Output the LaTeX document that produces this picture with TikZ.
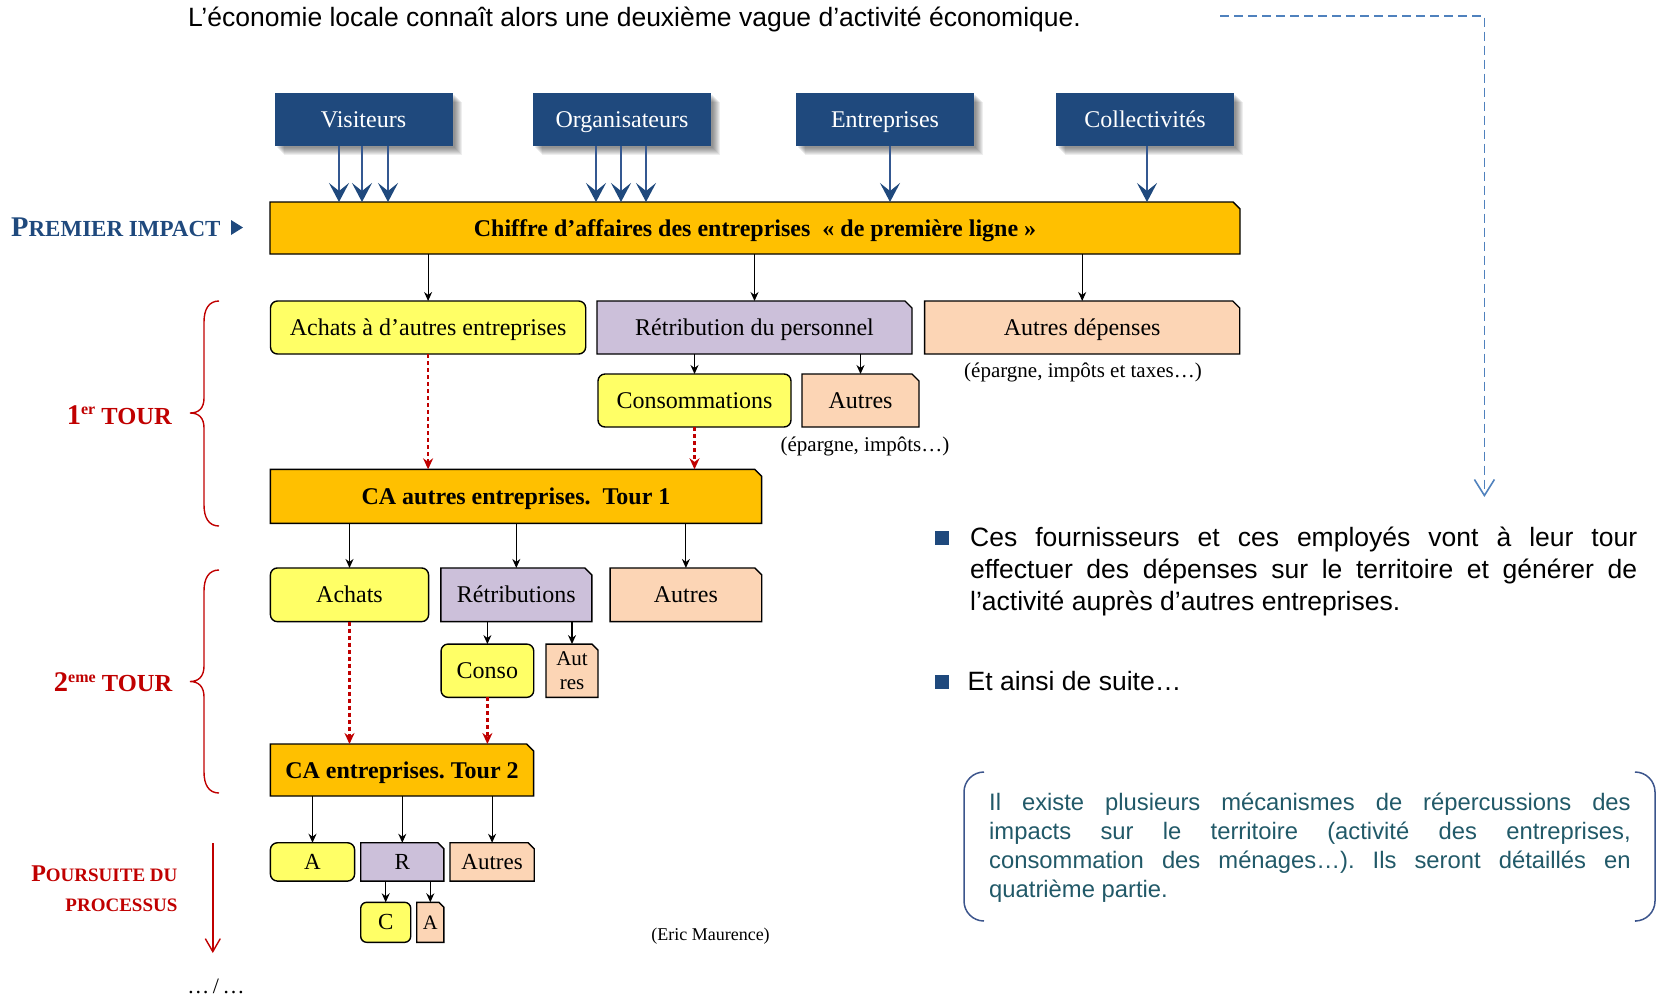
\documentclass[tikz,border=0pt]{standalone}
\usepackage{fontspec}
\setmainfont{Liberation Serif}
\newfontfamily\sansfont{Liberation Sans}
\usetikzlibrary{arrows.meta,calc}
\pgfdeclarelayer{background}
\pgfsetlayers{background,main}
\frenchspacing

\definecolor{srcblue}{RGB}{31,73,125}
\definecolor{arrowblue}{RGB}{52,88,145}
\definecolor{goldbox}{RGB}{255,192,0}
\definecolor{yelbox}{RGB}{255,255,102}
\definecolor{lavbox}{RGB}{204,192,218}
\definecolor{peachbox}{RGB}{252,213,181}
\definecolor{darkred}{RGB}{192,0,0}
\definecolor{dashblue}{RGB}{79,129,189}
\definecolor{tealtext}{RGB}{33,89,104}
\definecolor{bracketblue}{RGB}{60,85,140}

\newcommand\fs[1]{\fontsize{#1}{#1}\selectfont}

% box with the top-right corner cut off, drawn under its node
\newcommand\snipbox[3][7pt]{%
  \begin{pgfonlayer}{background}
    \draw[line width=1.4pt, fill=#3, line join=miter]
      (#2.south west) -- (#2.north west) -- ([xshift=-#1]#2.north east)
      -- ([yshift=-#1]#2.north east) -- (#2.south east) -- cycle;
  \end{pgfonlayer}}

% soft grey shadow to the lower right of a node
\newcommand\softshadow[1]{%
  \begin{pgfonlayer}{background}
    \foreach \k in {2,3,...,9}{%
      \fill[black, fill opacity=0.065]
        ([xshift=\k pt, yshift=-\k pt]#1.north west) rectangle
        ([xshift=\k pt, yshift=-\k pt]#1.south east);}
  \end{pgfonlayer}}

\begin{document}
\begin{tikzpicture}[x=1pt,y=-1pt,
  box/.style={inner sep=0pt, outer sep=0pt, align=center},
  capfit/.style={text height=16pt, text depth=0pt, font=\fs{24}},
  src/.style={box, capfit, fill=srcblue, text=white, minimum width=178pt, minimum height=53pt},
  gbox/.style={box, capfit, font=\bfseries\fs{24}},
  rbox/.style={box, capfit, draw=black, line width=1.4pt, fill=yelbox, rounded corners=7pt},
  sbox/.style={box, capfit},
  smallfit/.style={text height=15pt, text depth=0pt, font=\fs{23}},
  note/.style={inner sep=0pt, anchor=base, font=\fs{21}},
  arr/.style={-{Stealth[length=9pt,width=8pt]}, line width=1.1pt},
  barr/.style={-{Stealth[length=19pt,width=20pt,inset=8pt,color=srcblue]}, line width=1.5pt, draw=arrowblue},
  redarr/.style={draw=darkred, line width=2.4pt, dash pattern=on 4pt off 3pt,
    -{Stealth[length=11pt,width=10pt]}},
  sideline/.style={inner sep=0pt, anchor=base west, font=\sansfont\fs{26.5}},
  tealline/.style={inner sep=0pt, anchor=base west, font=\sansfont\fs{23.8}, text=tealtext},
  redlabel/.style={inner sep=0pt, anchor=base east, text=darkred, font=\bfseries},
]
\useasboundingbox (0,0) rectangle (1656,997);

% heading
\node[sideline] (title) at (188,26) {L’économie locale connaît alors une deuxième vague d’activité économique.};

% spending sources
\node[src] (vis) at (363.5,119.5) {Visiteurs};
\node[src] (org) at (622,119.5) {Organisateurs};
\node[src] (ent) at (885,119.5) {Entreprises};
\node[src] (col) at (1145,119.5) {Collectivités};
\softshadow{vis}\softshadow{org}\softshadow{ent}\softshadow{col}

% first impact
\node[gbox, minimum width=970pt, minimum height=52pt] (ca0) at (755,228)
  {Chiffre d’affaires des entreprises \ « de première ligne »};
\snipbox{ca0}{goldbox}

\node[inner sep=0pt, anchor=base west, text=srcblue, font=\bfseries] (premier) at (11,236)
  {{\fs{28.5}P}{\fs{23}REMIER IMPACT}};
\fill[srcblue] (231,220) -- (243,227.5) -- (231,235) -- cycle;

\coordinate (v1) at ([xshift=-24.5pt]vis.south);
\coordinate (v2) at ([xshift=-1.5pt]vis.south);
\coordinate (v3) at ([xshift=24.5pt]vis.south);
\coordinate (o1) at ([xshift=-26pt]org.south);
\coordinate (o2) at ([xshift=-1pt]org.south);
\coordinate (o3) at ([xshift=24pt]org.south);
\coordinate (e1) at ([xshift=5pt]ent.south);
\coordinate (c1) at ([xshift=2pt]col.south);
\foreach \p in {v1,v2,v3,o1,o2,o3,e1,c1}
  \draw[barr] (\p) -- (\p |- ca0.north);

% first round
\node[rbox, minimum width=315.2pt, minimum height=53pt] (ach1) at (428.1,327.5) {Achats à d’autres entreprises};
\node[sbox, minimum width=315pt, minimum height=53pt] (ret1) at (754.5,327.5) {Rétribution du personnel};
\node[sbox, minimum width=315.1pt, minimum height=53pt] (aut1) at (1082.2,327.5) {Autres dépenses};
\snipbox{ret1}{lavbox}
\snipbox{aut1}{peachbox}
\node[note] (n1) at (1083,377) {(épargne, impôts et taxes…)};

\node[rbox, minimum width=193pt, minimum height=53pt] (cons1) at (694.5,400.5) {Consommations};
\node[sbox, minimum width=117pt, minimum height=53pt] (aut1b) at (860.5,400.5) {Autres};
\snipbox{aut1b}{peachbox}
\node[note] (n2) at (865,451) {(épargne, impôts…)};

\draw[arr] (ca0.south -| ach1) -- (ach1.north);
\draw[arr] (ca0.south -| ret1) -- (ret1.north);
\draw[arr] (ca0.south -| aut1) -- (aut1.north);
\draw[arr] (ret1.south -| cons1) -- (cons1.north);
\draw[arr] (ret1.south -| aut1b) -- (aut1b.north);

\node[gbox, minimum width=491.3pt, minimum height=54pt] (ca1) at (516,496.3) {CA autres entreprises.\ \ Tour 1};
\snipbox{ca1}{goldbox}
\draw[redarr] (ach1.south) -- (ach1.south |- ca1.north);
\draw[redarr] (cons1.south) -- (cons1.south |- ca1.north);

% second round
\node[rbox, minimum width=158.2pt, minimum height=53.7pt] (ach2) at (349.5,594.8) {Achats};
\node[sbox, minimum width=151pt, minimum height=53.7pt] (ret2) at (516.3,594.8) {Rétributions};
\node[sbox, minimum width=151.7pt, minimum height=53.7pt] (aut2) at (685.9,594.8) {Autres};
\snipbox{ret2}{lavbox}
\snipbox{aut2}{peachbox}
\node[rbox, minimum width=92.7pt, minimum height=53.3pt] (cons2) at (487.4,670.7) {Conso};
\node[box, minimum width=52pt, minimum height=53.3pt, font=\fontsize{21}{23.5}\selectfont] (aut2b) at (572,670.7) {Aut\\res};
\snipbox[6pt]{aut2b}{peachbox}

\draw[arr] (ca1.south -| ach2) -- (ach2.north);
\draw[arr] (ca1.south -| ret2) -- (ret2.north);
\draw[arr] (ca1.south -| aut2) -- (aut2.north);
\draw[arr] (ret2.south -| cons2) -- (cons2.north);
\draw[arr] (ret2.south -| aut2b) -- (aut2b.north);

\node[gbox, minimum width=263.3pt, minimum height=52pt] (ca2) at (402,770) {CA entreprises. Tour 2};
\snipbox{ca2}{goldbox}
\draw[redarr] (ach2.south) -- (ach2.south |- ca2.north);
\draw[redarr] (cons2.south) -- (cons2.south |- ca2.north);

% following rounds
\node[rbox, smallfit, minimum width=84.2pt, minimum height=38.3pt] (a3) at (312.5,861.9) {A};
\node[sbox, smallfit, minimum width=83.2pt, minimum height=38.3pt] (r3) at (402.3,861.9) {R};
\node[sbox, smallfit, minimum width=84.2pt, minimum height=38.3pt] (aut3) at (492.1,861.9) {Autres};
\snipbox[6pt]{r3}{lavbox}
\snipbox[6pt]{aut3}{peachbox}
\node[rbox, smallfit, minimum width=50pt, minimum height=40pt, rounded corners=6pt] (c3) at (385.7,922.3) {C};
\node[box, text height=13.5pt, text depth=0pt, font=\fs{20.5}, minimum width=27.1pt, minimum height=40pt] (a3b) at (430.3,922.3) {A};
\snipbox[5pt]{a3b}{peachbox}

\draw[arr] (ca2.south -| a3) -- (a3.north);
\draw[arr] (ca2.south -| r3) -- (r3.north);
\draw[arr] (ca2.south -| aut3) -- (aut3.north);
\draw[arr] (r3.south -| c3) -- (c3.north);
\draw[arr] (r3.south -| a3b) -- (a3b.north);

\node[inner sep=0pt, anchor=base, font=\fs{18}] (credit) at (710.5,940) {(Eric Maurence)};
\node[inner sep=0pt, anchor=base, font=\fs{22}] (cont) at (216,993) {…\,/\,…};

% round labels and braces
\node[redlabel] (tour1) at (172,424) {{\fs{28.5}1}\raisebox{9.5pt}{\fs{16}er}{\fs{24.5}\ TOUR}};
\node[redlabel] (tour2) at (172.4,691.7) {{\fs{28.5}2}\raisebox{9.5pt}{\fs{16}eme}{\fs{24.5}\ TOUR}};
\draw[darkred, line width=1.4pt]
  (219,301) .. controls (209,301) and (204,309) .. (204,322) -- (204,398)
  .. controls (204,408) and (199,413) .. (190,413)
  .. controls (199,413) and (204,418) .. (204,428) -- (204,505)
  .. controls (204,518) and (209,526) .. (219,526);
\draw[darkred, line width=1.4pt]
  (219,570) .. controls (209,570) and (204,578) .. (204,591) -- (204,666)
  .. controls (204,676) and (199,681.5) .. (190,681.5)
  .. controls (199,681.5) and (204,687) .. (204,697) -- (204,772)
  .. controls (204,785) and (209,793) .. (219,793);

\node[redlabel] (pours1) at (177.6,881.7) {{\fs{24}P}{\fs{19}OURSUITE DU}};
\node[redlabel] (pours2) at (177.6,911.7) {{\fs{19}PROCESSUS}};
\coordinate (p0) at (212.8,843);
\coordinate (p1) at (212.8,953);
\draw[darkred, line width=1.4pt, -{Straight Barb[length=13pt,width=15pt]}] (p0) -- (p1);

% dashed pointer on the right
\coordinate (d0) at (1220,16);
\coordinate (d1) at (1484.4,16);
\coordinate (d2) at (1484.4,497);
\draw[dashblue, line width=1.6pt, dash pattern=on 9pt off 5pt,
  -{Straight Barb[length=16pt,width=20pt]}] (d0) -- (d1) -- (d2);

% bullet points
\node[fill=srcblue, minimum size=14pt, inner sep=0pt] (b1) at (942,537.5) {};
\node[sideline] (l1a) at (970,546.7) {\makebox[667pt][s]{Ces fournisseurs et ces employés vont à leur tour}};
\node[sideline] (l1b) at (970,578.3) {\makebox[667pt][s]{effectuer des dépenses sur le territoire et générer de}};
\node[sideline] (l1c) at (970,610) {l’activité auprès d’autres entreprises.};
\node[fill=srcblue, minimum size=14pt, inner sep=0pt] (b2) at (942,681.7) {};
\node[sideline] (l2) at (967.5,690.7) {Et ainsi de suite…};

% bracketed remark
\draw[bracketblue, line width=1.5pt, rounded corners=20pt] (984,772) -- (964,772) -- (964,921) -- (984,921);
\draw[bracketblue, line width=1.5pt, rounded corners=20pt] (1636,772) -- (1655,772) -- (1655,921) -- (1636,921);
\node[tealline] (t1) at (989,810) {\makebox[641.5pt][s]{Il existe plusieurs mécanismes de répercussions des}};
\node[tealline] (t2) at (989,839.3) {\makebox[641.5pt][s]{impacts sur le territoire (activité des entreprises,}};
\node[tealline] (t3) at (989,868.3) {\makebox[641.5pt][s]{consommation des ménages…). Ils seront détaillés en}};
\node[tealline] (t4) at (989,897.3) {quatrième partie.};
\end{tikzpicture}
\end{document}
